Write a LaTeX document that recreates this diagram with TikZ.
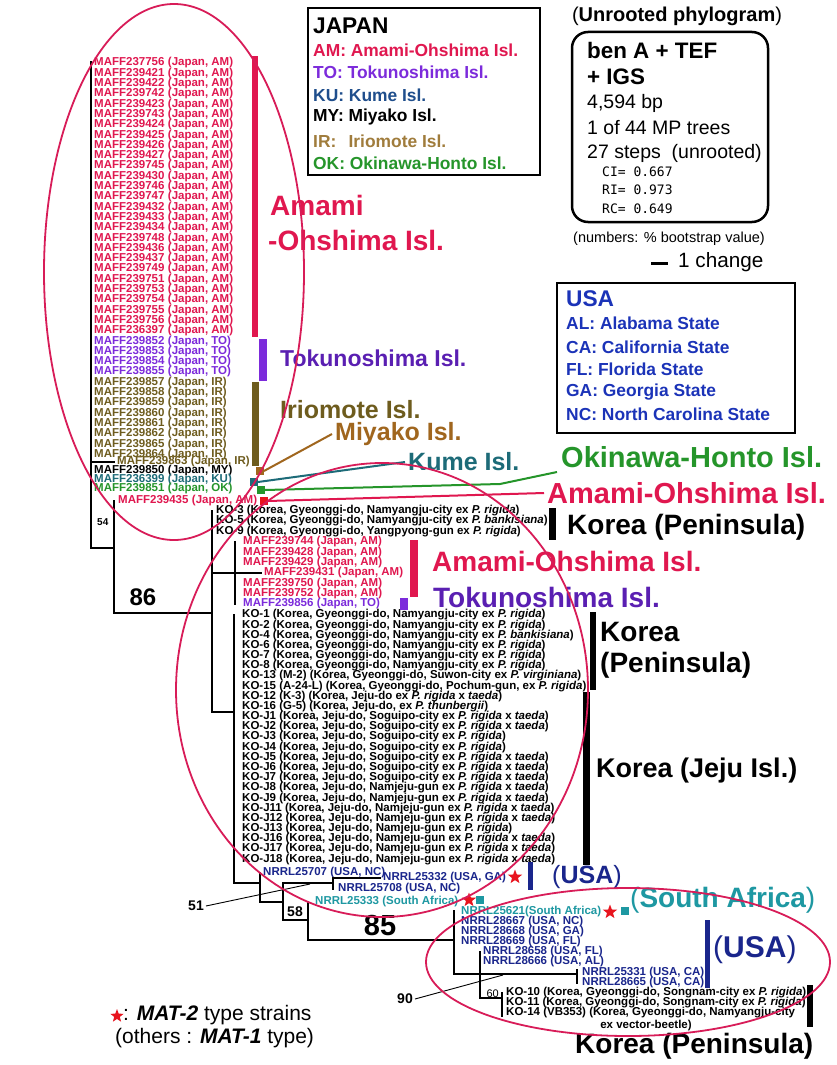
\documentclass[tikz,border=0pt]{standalone}
\usepackage{fontspec}
\setmainfont{Liberation Sans}
\newfontfamily\cimono{DejaVu Sans Mono}
\usetikzlibrary{shapes.geometric}

\definecolor{amred}{HTML}{E0174F}
\definecolor{toviolet}{HTML}{7C2BDB}
\definecolor{tobig}{HTML}{5A1FB2}
\definecolor{kublue}{HTML}{1F4E8C}
\definecolor{kuteal}{HTML}{1D6B78}
\definecolor{iroil}{HTML}{6E5C1E}
\definecolor{irtan}{HTML}{A07C3C}
\definecolor{mybrown}{HTML}{A0661E}
\definecolor{okgreen}{HTML}{25952A}
\definecolor{usanavy}{HTML}{1A268C}
\definecolor{usablue}{HTML}{1B33B8}
\definecolor{sateal}{HTML}{1E98A2}
\definecolor{starred}{HTML}{E8141E}
\definecolor{ringred}{HTML}{D81C58}

\newcommand\lgap{\hspace{0.3em}}
\newcommand\prig{\textit{P. rigida}}
\newcommand\prt{\textit{P. rigida} x \textit{taeda}}
\newcommand\kgn{(Korea, Gyeonggi-do, Namyangju-city ex}
\newcommand\kjs{(Korea, Jeju-do, Soguipo-city ex}
\newcommand\kjn{(Korea, Jeju-do, Namjeju-gun ex}

\tikzset{
  branch/.style={line width=2.8pt, line cap=rect},
  leaf/.style={anchor=west, inner sep=0pt, font=\fontsize{11.5}{12}\selectfont\bfseries},
  islabel/.style={anchor=west, inner sep=0pt, font=\fontsize{#1}{#1}\selectfont\bfseries},
  islabel/.default=28,
  boot/.style={inner sep=0pt, font=\fontsize{#1}{#1}\selectfont\bfseries},
  boot/.default=14,
  legtext/.style={anchor=west, inner sep=0pt, font=\fontsize{#1}{#1}\selectfont\bfseries},
  legtext/.default=17.4,
  sqmark/.style={rectangle, inner sep=0pt, minimum size=7.5pt},
  redstar/.style={star, star points=5, star point ratio=2.4, fill=starred, inner sep=0pt, minimum size=15pt},
  ring/.style={ringred, line width=1.8pt}
}

\begin{document}
\begin{tikzpicture}[x=1pt, y=-1pt]
\useasboundingbox (0,0) rectangle (836,1065);
\fill[white] (0,0) rectangle (836,1065);

% ---- legend boxes ----
\draw[line width=1.3pt] (308,8) rectangle (540,175);
\node[legtext=22.7] (jptitle) at (313,26) {JAPAN};
\node[legtext, amred] (jpam) at (313,50) {AM: Amami-Ohshima Isl.};
\node[legtext, toviolet] (jpto) at (313,72) {TO: Tokunoshima Isl.};
\node[legtext, kublue] (jpku) at (313,95) {KU: Kume Isl.};
\node[legtext] (jpmy) at (313,117) {MY: Miyako Isl.};
\node[legtext, irtan] (jpir) at (313,141) {IR:\hspace{0.7em}Iriomote Isl.};
\node[legtext, okgreen] (jpok) at (313,163) {OK: Okinawa-Honto Isl.};

\node[boot=20] (phylo) at (677,16) {{\mdseries(}Unrooted phylogram{\mdseries)}};
\draw[line width=2.5pt, rounded corners=16pt] (572,32) rectangle (768,222);
\node[legtext=22.4] (gene1) at (587,50) {ben A + TEF};
\node[legtext=22.4] (gene2) at (587,77) {+ IGS};
\node[anchor=west, inner sep=0pt, font=\fontsize{19.5}{20}\selectfont] (bp) at (587,103) {4,594 bp};
\node[anchor=west, inner sep=0pt, font=\fontsize{19.5}{20}\selectfont] (mp) at (587,128) {1 of 44 MP trees};
\node[anchor=west, inner sep=0pt, font=\fontsize{19.5}{20}\selectfont] (steps) at (587,153) {27 steps\ \ (unrooted)};
\node[anchor=west, inner sep=0pt, font=\cimono\fontsize{13}{13}\selectfont] (ci) at (602,172) {CI= 0.667};
\node[anchor=west, inner sep=0pt, font=\cimono\fontsize{13}{13}\selectfont] (ri) at (602,190) {RI= 0.973};
\node[anchor=west, inner sep=0pt, font=\cimono\fontsize{13}{13}\selectfont] (rc) at (602,209) {RC= 0.649};
\node[inner sep=0pt, font=\fontsize{14.5}{15}\selectfont] (bsnote) at (669,239) {(numbers: \% bootstrap value)};
\node[anchor=west, inner sep=0pt, font=\fontsize{20.7}{21}\selectfont] (onechg) at (678,262) {1 change};
\coordinate (sbar) at (651,263);
\draw[line width=3pt] (sbar) -- ++(17,0);

\draw[line width=1.3pt] (557,283) rectangle (795,433);
\node[legtext=22.7, usablue] (ustitle) at (566,299) {USA};
\node[legtext, usablue] (usal) at (566,323) {AL: Alabama State};
\node[legtext, usablue] (usca) at (566,347) {CA: California State};
\node[legtext, usablue] (usfl) at (566,369) {FL: Florida State};
\node[legtext, usablue] (usga) at (566,392) {GA: Georgia State};
\node[legtext, usablue] (usnc) at (566,414) {NC: North Carolina State};

% ---- leaves: Japan clade ----
\foreach \n [count=\i from 0] in {237756,239421,239422,239742,239423,239743,239424,239425,239426,239427,239745,239430,239746,239747,239432,239433,239434,239748,239436,239437,239749,239751,239753,239754,239755,239756,236397}
  \node[leaf, amred] (am\i) at (94,{63+10.3*\i}) {MAFF\n\lgap(Japan, AM)};
\foreach \n [count=\i from 27] in {239852,239853,239854,239855}
  \node[leaf, toviolet] (to\i) at (94,{63+10.3*\i}) {MAFF\n\lgap(Japan, TO)};
\foreach \n [count=\i from 31] in {239857,239858,239859,239860,239861,239862,239865,239864}
  \node[leaf, iroil] (ir\i) at (94,{63+10.3*\i}) {MAFF\n\lgap(Japan, IR)};
\node[leaf, iroil] (m863) at (117,462) {MAFF239863\lgap(Japan, IR)};
\node[leaf] (m850) at (94,471) {MAFF239850\lgap(Japan, MY)};
\node[leaf, kuteal] (m399) at (94,480) {MAFF236399\lgap(Japan, KU)};
\node[leaf, okgreen] (m851) at (94,489) {MAFF239851\lgap(Japan, OK)};
\node[leaf, amred] (m435) at (118,501) {MAFF239435\lgap(Japan, AM)};

% ---- leaves: clade 86 ----
\node[leaf] (ko3) at (216,511) {KO-3 \kgn{} \prig)};
\node[leaf] (ko5) at (216,521) {KO-5 \kgn{} \textit{P. bankisiana})};
\node[leaf] (ko9) at (216,532) {KO-9 (Korea, Gyeonggi-do, Yangpyong-gun ex \prig)};
\node[leaf, amred] (j0) at (243,542) {MAFF239744 (Japan, AM)};
\node[leaf, amred] (j1) at (243,553) {MAFF239428 (Japan, AM)};
\node[leaf, amred] (j2) at (243,563) {MAFF239429\lgap(Japan, AM)};
\node[leaf, amred] (j3) at (264,573) {MAFF239431\lgap(Japan, AM)};
\node[leaf, amred] (j4) at (243,584) {MAFF239750\lgap(Japan, AM)};
\node[leaf, amred] (j5) at (243,594) {MAFF239752\lgap(Japan, AM)};
\node[leaf, toviolet] (j6) at (243,604) {MAFF239856\lgap(Japan, TO)};
\foreach \t [count=\i from 0] in {
  {KO-1 \kgn{} \prig)}, {KO-2 \kgn{} \prig)}, {KO-4 \kgn{} \textit{P. bankisiana})},
  {KO-6 \kgn{} \prig)}, {KO-7 \kgn{} \prig)}, {KO-8 \kgn{} \prig)},
  {KO-13 (M-2) (Korea, Gyeonggi-do, Suwon-city ex \textit{P. virginiana})},
  {KO-15 (A-24-L) (Korea, Gyeonggi-do, Pochum-gun, ex \prig)},
  {KO-12 (K-3) (Korea, Jeju-do ex \prt)}, {KO-16 (G-5) (Korea, Jeju-do, ex \textit{P. thunbergii})},
  {KO-J1 \kjs{} \prt)}, {KO-J2 \kjs{} \prt)}, {KO-J3 \kjs{} \prig)}, {KO-J4 \kjs{} \prig)},
  {KO-J5 \kjs{} \prt)}, {KO-J6 \kjs{} \prt)}, {KO-J7 \kjs{} \prt)},
  {KO-J8 \kjn{} \prt)}, {KO-J9 \kjn{} \prt)}, {KO-J11 \kjn{} \prt)}, {KO-J12 \kjn{} \prt)},
  {KO-J13 \kjn{} \prig)}, {KO-J16 \kjn{} \prt)}, {KO-J17 \kjn{} \prt)}, {KO-J18 \kjn{} \prt)}}
  \node[leaf] (kr\i) at (242,{615+10.17*\i}) {\t};

% ---- leaves: USA / South Africa ----
\node[leaf, usanavy] (us07) at (263,873) {NRRL25707 (USA, NC)};
\node[leaf, usanavy] (us32) at (383,878) {NRRL25332 (USA, GA)};
\node[leaf, usanavy] (us08) at (338,889) {NRRL25708 (USA, NC)};
\node[leaf, sateal] (sa33) at (315,902) {NRRL25333 (South Africa)};
\node[leaf, sateal] (sa21) at (461,912) {NRRL25621(South Africa)};
\node[leaf, usanavy] (us67) at (461,922) {NRRL28667 (USA, NC)};
\node[leaf, usanavy] (us68) at (461,932) {NRRL28668 (USA, GA)};
\node[leaf, usanavy] (us69) at (461,942) {NRRL28669 (USA, FL)};
\node[leaf, usanavy] (us58) at (483,952) {NRRL28658 (USA, FL)};
\node[leaf, usanavy] (us66) at (483,962) {NRRL28666 (USA, AL)};
\node[leaf, usanavy] (us31) at (582,973) {NRRL25331 (USA, CA)};
\node[leaf, usanavy] (us65) at (582,983) {NRRL28665 (USA, CA)};
\node[leaf] (ko10) at (506,993) {KO-10 (Korea, Gyeonggi-do, Songnam-city ex \prig)};
\node[leaf] (ko11) at (506,1003) {KO-11 (Korea, Gyeonggi-do, Songnam-city ex \prig)};
\node[leaf] (ko14) at (506,1013) {KO-14 (VB353) (Korea, Gyeonggi-do, Namyangju-city};
\node[leaf, anchor=center] (ko14b) at (646,1026) {ex vector-beetle)};

% ---- tree ----
\coordinate (Rt) at (91,62);   \coordinate (Rb) at (91,548);
\coordinate (Nt) at (114,501); \coordinate (Nb) at (114,613);
\coordinate (At) at (212,511); \coordinate (Ab) at (212,712);
\coordinate (Jt) at (235,542); \coordinate (Jb) at (235,604);
\coordinate (Kt) at (234,615); \coordinate (Kb) at (234,883);
\coordinate (Bt) at (260,873); \coordinate (Bb) at (260,902);
\coordinate (Ct) at (283,883); \coordinate (Cb) at (283,920);
\coordinate (Dt) at (333,878); \coordinate (Db) at (333,889);
\coordinate (Et) at (308,902); \coordinate (Eb) at (308,940);
\coordinate (Ft) at (454,911); \coordinate (Fb) at (454,974);
\coordinate (Gt) at (480,952); \coordinate (Gb) at (480,998);
\coordinate (Ht) at (577,970); \coordinate (Hb) at (577,983);
\coordinate (It) at (502,993); \coordinate (Ib) at (502,1016);

\draw[branch] (Rt) -- (Rb) -- (Nt |- Rb);
\draw[branch] (Rt |- m863.west) -- ([xshift=-3pt]m863.west);
\draw[branch] (Nt) -- (Nb) -- (At |- Nb);
\draw[branch] (At) -- (Ab) -- (Kt |- Ab);
\draw[branch] (At |- j3.west) -- ([xshift=-3pt]j3.west);
\draw[branch] (Jt) -- (Jb);
\draw[branch] (Kt) -- (Kb) -- (Bt |- Kb);
\draw[branch] (Bt) -- (Bb) -- (Ct |- Bb);
\draw[branch] (Ct) -- (Dt |- Ct);
\draw[branch] (Dt) -- (Db);
\draw[branch] (Dt) -- ([xshift=-3pt]us32.west);
\draw[branch] (Ct) -- (Cb) -- (Et |- Cb);
\draw[branch] (Et) -- (Eb) -- (Ft |- Eb);
\draw[branch] (Ft) -- (Fb) -- (Ht |- Fb);
\draw[branch] (Gt) -- (Gb) -- (It |- Gb);
\draw[branch] (Ht) -- (Hb);
\draw[branch] (It) -- (Ib);

% ---- bootstrap values ----
\node[boot=10, anchor=west] (b54) at (97,522) {54};
\node[boot=24] (b86) at (143,597) {86};
\node[boot] (b51) at (196,906) {51};
\node[boot] (b58) at (295,912) {58};
\node[boot=29] (b85) at (380,926) {85};
\node[inner sep=0pt, anchor=east, font=\fontsize{11}{11}\selectfont] (b60) at (499,994) {60};
\node[boot] (b90) at (405,999) {90};
\coordinate (c51) at (310,884);
\coordinate (c90) at (503,975);
\draw[line width=0.9pt] ([xshift=2pt]b51.east) -- (c51);
\draw[line width=0.9pt] ([xshift=2pt]b90.east) -- (c90);

% ---- Japanese island marks ----
\fill[amred] (252,56) rectangle (258,337);
\fill[toviolet] (259,339) rectangle (267,381);
\fill[iroil] (252,382) rectangle (259,466);
\node[sqmark, fill=mybrown] (sqMY) at (260,471) {};
\node[sqmark, fill=kuteal] (sqKU) at (254,482) {};
\node[sqmark, fill=okgreen] (sqOK) at (261,490) {};
\node[sqmark, fill=starred] (sqAM) at (264,501) {};

\node[islabel, amred] (labAMa) at (270,205) {Amami};
\node[islabel, amred] (labAMb) at (268,240) {-Ohshima Isl.};
\node[islabel=23, tobig] (labTO) at (280,358) {Tokunoshima Isl.};
\node[islabel=25, iroil] (labIR) at (280,410) {Iriomote Isl.};
\node[islabel=25, mybrown] (labMY) at (335,434) {Miyako Isl.};
\node[islabel=25, kuteal] (labKU) at (408,462) {Kume Isl.};
\node[islabel=29, okgreen] (labOK) at (561,457) {Okinawa-Honto Isl.};
\node[islabel=29, amred] (labAM2) at (547,493) {Amami-Ohshima Isl.};
\coordinate (okbend) at (500,484);
\coordinate (okend) at (557,472);
\draw[mybrown, line width=2pt] (sqMY.east) -- ([xshift=-3pt]labMY.west);
\draw[kuteal, line width=2pt] (sqKU.east) -- ([xshift=-3pt]labKU.west);
\draw[okgreen, line width=2pt] (sqOK.east) -- (okbend) -- (okend);
\draw[amred, line width=2pt] (sqAM.east) -- ([xshift=-3pt]labAM2.west);

% ---- region labels ----
\fill (549,508) rectangle (556,540);
\node[islabel] (labKP1) at (567,527) {Korea (Peninsula)};
\fill[amred] (410,540) rectangle (418,597);
\node[islabel, amred] (labAM3) at (432,561) {Amami-Ohshima Isl.};
\fill[toviolet] (400,598) rectangle (408,610);
\node[islabel, tobig] (labTO2) at (433,597) {Tokunoshima Isl.};
\fill (590,612) rectangle (596,690);
\node[islabel] (labKP2a) at (600,632) {Korea};
\node[islabel] (labKP2b) at (600,665) {(Peninsula)};
\fill (583,692) rectangle (590,865);
\node[islabel=27] (labJJ) at (596,771) {Korea (Jeju Isl.)};

\node[redstar] (st1) at (515,877) {};
\fill[usanavy] (528,862) rectangle (533,890);
\node[islabel=25, usanavy] (labUS1) at (552,877) {{\mdseries(}USA{\mdseries)}};
\node[redstar] (st2) at (469,900) {};
\node[sqmark, fill=sateal] (sqSA1) at (480,900) {};
\node[redstar] (st3) at (610,912) {};
\node[sqmark, fill=sateal] (sqSA2) at (625,911) {};
\node[islabel=28, sateal] (labSA) at (630,900) {{\mdseries(}South Africa{\mdseries)}};
\fill[usanavy] (705,920) rectangle (710,988);
\node[islabel=30, usanavy] (labUS2) at (713,950) {{\mdseries(}USA{\mdseries)}};
\fill (807,985) rectangle (813,1027);
\node[islabel] (labKP3) at (575,1046) {Korea (Peninsula)};

% ---- mating type legend ----
\node[redstar, minimum size=14pt] (lstar) at (117,1016) {};
\node[anchor=west, inner sep=0pt, font=\fontsize{21}{21}\selectfont] (mat2) at (123,1015) {: \textbf{\textit{MAT-2}} type strains};
\node[anchor=west, inner sep=0pt, font=\fontsize{21}{21}\selectfont] (mat1) at (115,1038) {(others : \textbf{\textit{MAT-1}} type)};

% ---- rings ----
\coordinate (ringA) at (174,272);
\coordinate (ringB) at (382,690);
\coordinate (ringC) at (628,962);
\draw[ring] (ringA) ellipse [x radius=130, y radius=268];
\draw[ring] (ringB) ellipse [x radius=206, y radius=227];
\draw[ring] (ringC) ellipse [x radius=202, y radius=74];
\end{tikzpicture}
\end{document}
